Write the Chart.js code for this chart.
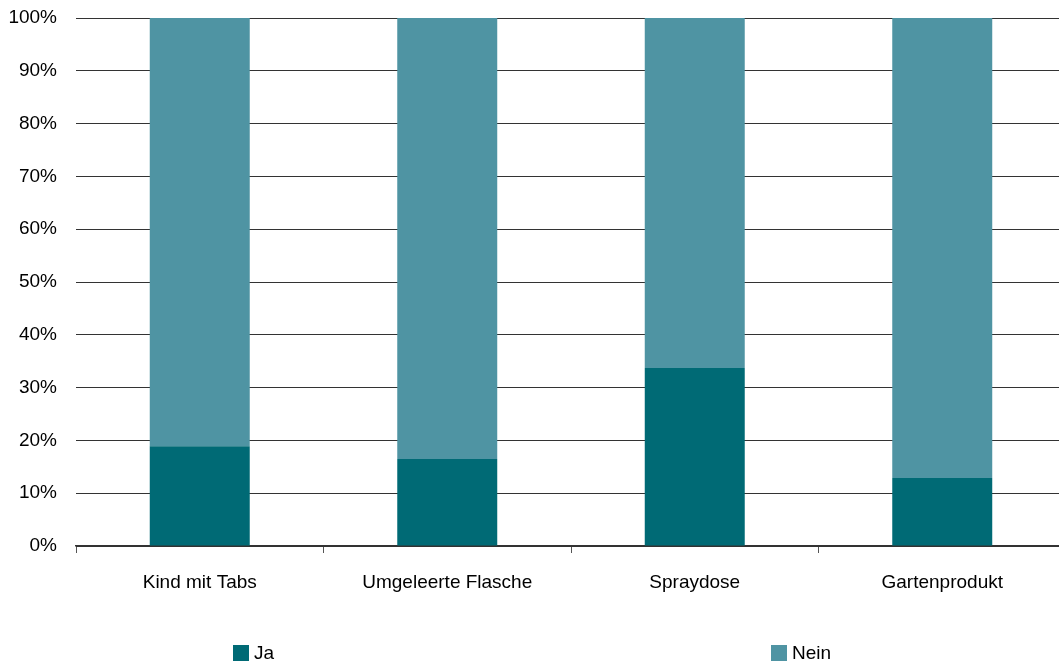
<!DOCTYPE html>
<html>
<head>
<meta charset="utf-8">
<script src="https://cdn.jsdelivr.net/npm/chart.js@4/dist/chart.umd.min.js"></script>
<style>
  html, body { margin: 0; padding: 0; background: #fff; overflow: hidden; }
  #wrap { width: 1066px; height: 664px; position: relative; }
</style>
</head>
<body>
<div id="wrap"><canvas id="c"></canvas></div>
<script>
// Categories and shares (percent) per answer
const categories = ['Kind mit Tabs', 'Umgeleerte Flasche', 'Spraydose', 'Gartenprodukt'];
const jaValues = [18.9, 16.5, 33.7, 12.9];
const neinValues = [81.1, 83.5, 66.3, 87.1];
const seriesNames = ['Ja', 'Nein'];
const yTickValues = [0, 10, 20, 30, 40, 50, 60, 70, 80, 90, 100];

const FONT = "'Liberation Sans', Arial, sans-serif";
const FONT_SIZE = 19;
const colJa = '#006a75';
const colNein = '#4f94a3';

// Legend drawn below the plot with the items spread apart
const spreadLegend = {
  id: 'spreadLegend',
  afterDraw(chart) {
    const ctx = chart.ctx;
    const xs = [233, 771];
    const y = 645, box = 16;
    ctx.save();
    ctx.font = FONT_SIZE + 'px ' + FONT;
    ctx.textBaseline = 'middle';
    ctx.textAlign = 'left';
    chart.data.datasets.forEach((ds, i) => {
      ctx.fillStyle = ds.backgroundColor;
      ctx.fillRect(xs[i], y, box, box);
      ctx.fillStyle = '#000';
      ctx.fillText(ds.label, xs[i] + box + 5, y + box / 2 + 1);
    });
    ctx.restore();
  }
};

new Chart(document.getElementById('c'), {
  type: 'bar',
  data: {
    labels: categories,
    datasets: [
      { label: seriesNames[0], data: jaValues, backgroundColor: colJa },
      { label: seriesNames[1], data: neinValues, backgroundColor: colNein }
    ]
  },
  options: {
    responsive: true,
    maintainAspectRatio: false,
    animation: false,
    events: [],
    layout: { padding: { top: 18, right: 0, bottom: 58, left: 0 } },
    datasets: { bar: { categoryPercentage: 1, barPercentage: 0.404 } },
    plugins: {
      legend: { display: false },
      tooltip: { enabled: false }
    },
    scales: {
      x: {
        stacked: true,
        offset: true,
        grid: {
          display: true,
          offset: true,
          drawOnChartArea: false,
          drawTicks: true,
          tickLength: 7,
          color: '#555',
          tickColor: '#555'
        },
        border: { display: true, color: '#333', width: 1.5 },
        ticks: {
          color: '#000',
          padding: 18,
          maxRotation: 0,
          autoSkip: false,
          font: { family: FONT, size: FONT_SIZE }
        },
        afterFit(scale) { scale.height = 60; }
      },
      y: {
        stacked: true,
        min: 0,
        max: 100,
        afterBuildTicks(scale) { scale.ticks = yTickValues.map(v => ({ value: v })); },
        grid: {
          color: '#333',
          lineWidth: 1,
          drawTicks: true,
          tickLength: 13,
          tickColor: 'rgba(0,0,0,0)'
        },
        border: { display: false },
        ticks: {
          color: '#000',
          padding: 6,
          callback: v => v + '%',
          font: { family: FONT, size: FONT_SIZE }
        },
        afterFit(scale) { scale.width = 76; }
      }
    }
  },
  plugins: [spreadLegend]
});
</script>
</body>
</html>
